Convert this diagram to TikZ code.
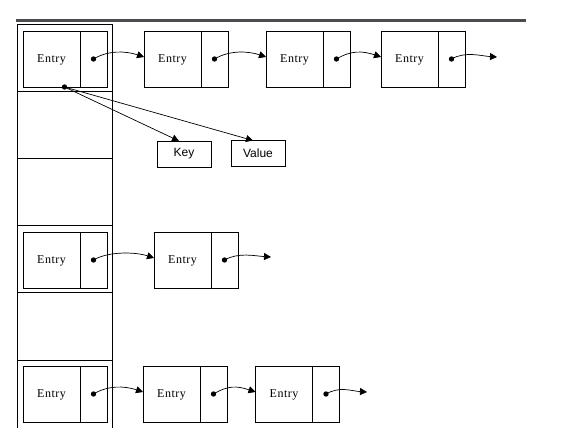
\documentclass[tikz,border=0pt]{standalone}
\usepackage{fontspec}
\setmainfont{Liberation Serif}
\newfontfamily\entryfamily[LetterSpace=4]{Liberation Serif}
\newfontfamily\kvfamily{Liberation Sans}
\usetikzlibrary{arrows.meta}
\definecolor{barcol}{HTML}{4A4B55}
\begin{document}
\begin{tikzpicture}[x=1pt,y=-1pt,line width=0.8pt,
  entrybox/.style={draw,minimum width=57pt,minimum height=56pt,inner sep=0pt,outer sep=0pt,anchor=north west,
    text depth=0pt,font=\entryfamily\fontsize{12}{14}\selectfont},
  ptrbox/.style={draw,minimum width=27pt,minimum height=56pt,inner sep=0pt,outer sep=0pt,anchor=west},
  kvbox/.style={draw,minimum width=54pt,minimum height=26pt,inner sep=0pt,outer sep=0pt,
    font=\kvfamily\fontsize{12}{14}\selectfont},
  link/.style={line width=0.7pt,-{Triangle[length=7pt,width=7pt]}},
  dot/.style={fill=black}]
\useasboundingbox (0,0) rectangle (582,428);
% top bar
\draw[line width=3pt,barcol] (16,20.5) -- (526,20.5);
% bucket column
\draw (17,440) -- (17,24) -- (112,24) -- (112,440);
\foreach \y in {91,158,225,292,360} \draw (17,\y) -- (112,\y);
% row 1
\node[entrybox] (e11) at (23,31) {Entry};
\node[ptrbox] (p11) at (e11.east) {};
\node[entrybox] (e12) at (144,31) {Entry};
\node[ptrbox] (p12) at (e12.east) {};
\node[entrybox] (e13) at (266,31) {Entry};
\node[ptrbox] (p13) at (e13.east) {};
\node[entrybox] (e14) at (381,31) {Entry};
\node[ptrbox] (p14) at (e14.east) {};
\coordinate (end1) at (497,57);
% key / value
\node[kvbox] (key) at (184,154) {Key};
\node[kvbox] (value) at (258,153.5) {Value};
% row 4
\node[entrybox] (e41) at (23,232) {Entry};
\node[ptrbox] (p41) at (e41.east) {};
\node[entrybox] (e42) at (154,232) {Entry};
\node[ptrbox] (p42) at (e42.east) {};
\coordinate (end4) at (271,257);
% row 6
\node[entrybox] (e61) at (23,366) {Entry};
\node[ptrbox] (p61) at (e61.east) {};
\node[entrybox] (e62) at (143,366) {Entry};
\node[ptrbox] (p62) at (e62.east) {};
\node[entrybox] (e63) at (255.5,366) {Entry};
\node[ptrbox] (p63) at (e63.east) {};
\coordinate (end6) at (367,392);
% pointer links
\foreach \a/\b in {p11/e12,p12/e13,p13/e14,p41/e42,p61/e62,p62/e63}{
  \fill[dot] (\a.center) circle (2.7);
  \draw[link] (\a.center) .. controls +(15,-9) and +(-18,-6) .. ([yshift=2pt]\b.west);
}
\foreach \a/\b in {p14/end1,p42/end4,p63/end6}{
  \fill[dot] (\a.center) circle (2.7);
  \draw[link] (\a.center) .. controls +(14,-8) and +(-16,-1) .. (\b);
}
% entry to key/value
\coordinate (kvsrc) at ([xshift=13pt]e11.south);
\fill[dot] (kvsrc) circle (2.7);
\draw[link] (kvsrc) -- ([xshift=-5pt]key.north);
\draw[link] (kvsrc) -- ([xshift=-5pt]value.north);
\end{tikzpicture}
\end{document}
